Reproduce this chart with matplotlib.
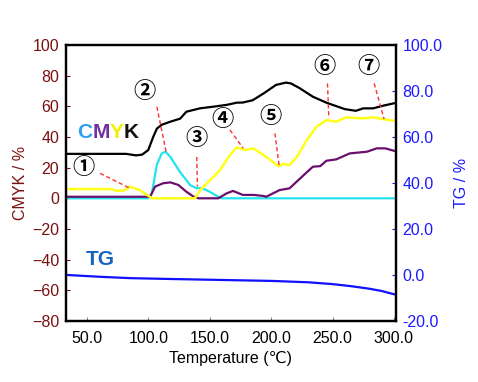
import matplotlib.pyplot as plt

plt.rcParams['font.family'] = ['Liberation Sans', 'DejaVu Sans']

# ---- data (temperature in degC) ----
k_temp = [33, 82, 90, 95, 100, 104, 107, 111, 118, 126, 131, 142, 153, 164, 172,
          177, 185, 194, 204, 212, 216, 223, 234, 245, 260, 269, 275, 283, 291, 300]
k_val = [29, 29, 28, 28.5, 31.5, 40, 45.5, 48, 50, 52, 56.5, 58.7, 59.8, 61, 62.4,
         62.5, 64, 68.5, 74, 75.5, 75, 72, 66.3, 62.4, 58.2, 57.1, 58.7, 58.7, 60.4, 62]

y_temp = [33, 69, 74, 80, 85, 93, 103, 138, 143, 149, 153, 158, 166.5, 172, 179,
          185.5, 194, 206, 210, 215, 221, 229, 237, 245, 253, 261, 275, 283, 291, 300]
y_val = [6, 6, 5, 5, 7.6, 5.4, 0, 0, 6, 10.8, 14, 18, 28.2, 33.2, 31.5,
         32.6, 28.2, 21, 22.4, 21.7, 27, 38, 46.7, 51, 50, 52.8, 52.2, 52.8, 51.7, 50.6]

m_temp = [33, 101.5, 105.5, 112, 118, 124.5, 131, 137, 141, 157, 164, 169, 177, 186,
          194, 196, 207, 215, 225, 234, 240, 245, 253, 264, 278, 286, 293, 300]
m_val = [1, 1, 7.6, 9.8, 10.4, 8.7, 4.3, 1, 0, 0, 3.3, 4.8, 2.2, 2.2,
         1.5, 1, 5.4, 6.5, 14, 20.6, 21, 24.5, 25.4, 29.3, 30.4, 32.6, 32.6, 31]

c_temp = [33, 100, 103, 107, 111, 114, 118, 126, 134, 139.5, 143.6, 150, 157, 160, 300]
c_val = [0, 0, 3.3, 22, 29.3, 30.4, 27, 17, 8.7, 6.5, 6.8, 4.3, 1, 0, 0]

tg_temp = [33, 60, 85, 120, 160, 200, 230, 250, 265, 280, 290, 300]
tg_val = [0, -0.8, -1.4, -1.8, -2.2, -2.6, -3.2, -4.0, -4.9, -6.0, -7.0, -8.4]

# circled labels: text position and the dashed leader line (x0, y0, x1, y1)
marks = ['①', '②', '③', '④', '⑤', '⑥', '⑦']
mark_pos = [(47.6, 20), (96.9, 69.5), (138.9, 39.1), (160.3, 51.7),
            (199.6, 53.7), (243.2, 85.8), (279, 86.3)]
mark_lines = [(60.8, 16.3, 85.2, 6.5), (107, 59.8, 114.5, 30.4),
              (139.5, 27, 140, 7.6), (166.5, 44.6, 177.3, 32.6),
              (203.1, 42.4, 206.6, 21), (245.9, 75, 247, 52.2),
              (283.9, 75, 292, 51.7)]

x_ticks = [50, 100, 150, 200, 250, 300]
left_ticks = [-80, -60, -40, -20, 0, 20, 40, 60, 80, 100]
right_ticks = [-20, 0, 20, 40, 60, 80, 100]

dark_red = '#7a1010'
blue = '#1a1aff'

fig = plt.figure(figsize=(4.78, 3.82), dpi=100)
ax = fig.add_axes([0.138, 0.160, 0.690, 0.722])
ax2 = ax.twinx()

ax.plot(c_temp, c_val, color='#22e3ee', lw=1.6)
ax.plot(m_temp, m_val, color='#6a0f6e', lw=1.6)
ax.plot(y_temp, y_val, color='#ffff1a', lw=1.8)
ax.plot(k_temp, k_val, color='black', lw=1.6)
ax2.plot(tg_temp, tg_val, color='#1010ff', lw=1.6)

for (x0, y0, x1, y1) in mark_lines:
    ax.plot([x0, x1], [y0, y1], color='#ff3030', lw=1.0, ls=(0, (3, 2)))
for m, (tx, ty) in zip(marks, mark_pos):
    ax.text(tx, ty, m, fontsize=16, fontweight='bold', ha='center', va='center',
            family=['Noto Sans CJK JP', 'DejaVu Sans'])

# CMYK coloured label
t = ax.text(42, 43, 'C', fontsize=15, fontweight='bold', color='#2f9ff0',
            va='center')
for letter, col in [('M', '#7030a0'), ('Y', '#f0f000'), ('K', '#111111')]:
    t = ax.annotate(letter, xy=(1, 0), xycoords=t, fontsize=15,
                    fontweight='bold', color=col, va='bottom')

ax.text(49, -40, 'TG', fontsize=15, fontweight='bold', color='#1565c0',
        va='center')

ax.set_xlim(33, 301.5)
ax.set_ylim(-80, 100)
ax2.set_ylim(-20, 100)
ax.set_xticks(x_ticks)
ax.set_xticklabels([f'{v:.1f}' for v in x_ticks])
ax.set_yticks(left_ticks)
ax2.set_yticks(right_ticks)
ax2.set_yticklabels([f'{v:.1f}' for v in right_ticks])

ax.tick_params(axis='x', direction='in', length=3, color='#888888',
               labelsize=11.5, pad=7)
ax.tick_params(axis='y', direction='in', length=3, color=dark_red,
               labelcolor=dark_red, labelsize=11.5, pad=5)
ax2.tick_params(axis='y', direction='in', length=3, color=blue,
                labelcolor=blue, labelsize=11.5, pad=5)

for sp in ax2.spines.values():
    sp.set_linewidth(1.6)
for sp in ax.spines.values():
    sp.set_linewidth(1.6)

ax.set_xlabel('Temperature (℃)', fontsize=11.5, labelpad=4)
ax.set_ylabel('CMYK / %', fontsize=11.5, color=dark_red, labelpad=3)
ax2.set_ylabel('TG / %', fontsize=11.5, color=blue, labelpad=8)

fig.savefig('out.png', dpi=100)
